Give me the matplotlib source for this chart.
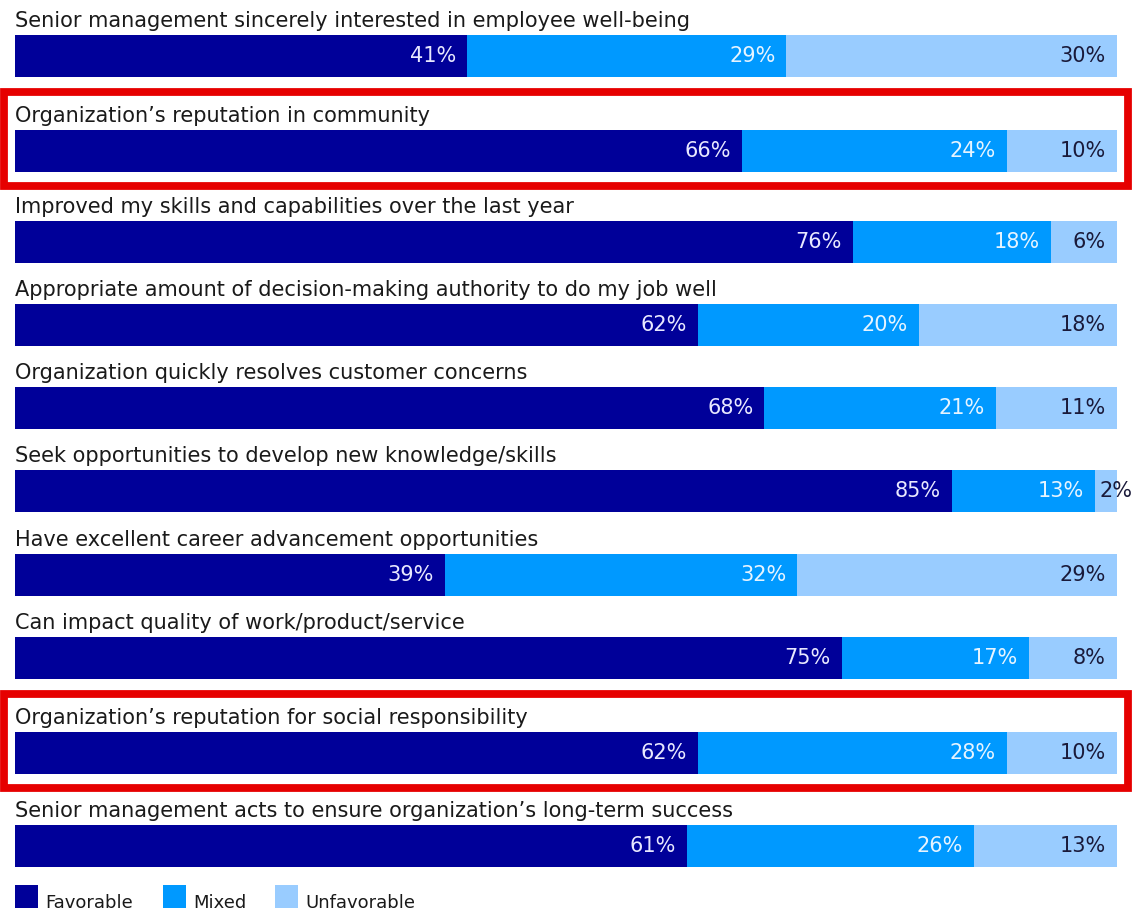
import matplotlib
matplotlib.use("Agg")
import matplotlib.pyplot as plt
from matplotlib.patches import Rectangle
import numpy as np

categories = [
    "Senior management sincerely interested in employee well-being",
    "Organization\u2019s reputation in community",
    "Improved my skills and capabilities over the last year",
    "Appropriate amount of decision-making authority to do my job well",
    "Organization quickly resolves customer concerns",
    "Seek opportunities to develop new knowledge/skills",
    "Have excellent career advancement opportunities",
    "Can impact quality of work/product/service",
    "Organization\u2019s reputation for social responsibility",
    "Senior management acts to ensure organization\u2019s long-term success",
]
favorable = [41, 66, 76, 62, 68, 85, 39, 75, 62, 61]
mixed = [29, 24, 18, 20, 21, 13, 32, 17, 28, 26]
unfavorable = [30, 10, 6, 18, 11, 2, 29, 8, 10, 13]
series_names = ["Favorable", "Mixed", "Unfavorable"]
highlighted = [1, 8]

colors = ["#000099", "#0099ff", "#99ccff"]
text_colors = ["#e8e8ff", "#e6f4ff", "#1a1a3a"]

W, H = 1135, 911
fig = plt.figure(figsize=(W / 100, H / 100), dpi=100)
x0, x1 = 15, 1117
ax = fig.add_axes([x0 / W, 0, (x1 - x0) / W, 1])
ax.set_xlim(0, 100)
ax.set_ylim(H, 0)
ax.axis("off")

# layout: bar centres in pixel rows
centers = [56, 151, 242, 325, 408, 491, 575, 658, 753, 846]
bar_h = 42
px_per_pct = (x1 - x0) / 100.0
fs_title = 15
fs_val = 15

data = [favorable, mixed, unfavorable]
for i, cat in enumerate(categories):
    left = 0
    for s in range(3):
        v = data[s][i]
        ax.barh(centers[i], v, left=left, height=bar_h, color=colors[s],
                edgecolor="none")
        if v >= 4:
            ax.text(left + v - 11 / px_per_pct, centers[i], f"{v}%",
                    ha="right", va="center", fontsize=fs_val,
                    color=text_colors[s], family="DejaVu Sans")
        else:
            ax.text(left + v / 2 - 0.6, centers[i], f"{v}%",
                    ha="left", va="center", fontsize=fs_val,
                    color=text_colors[s], family="DejaVu Sans")
        left += v
    ax.text(0, centers[i] - bar_h / 2 - 8, cat, ha="left", va="baseline",
            fontsize=fs_title, color="#1a1a1a", family="DejaVu Sans")

# highlight boxes (figure pixel coordinates)
for i in highlighted:
    top = centers[i] - 59
    bot = centers[i] + 35
    rect = Rectangle((4 / W, 1 - bot / H), (1128 - 4) / W, (bot - top) / H,
                     transform=fig.transFigure, fill=False,
                     edgecolor="#e60000", linewidth=5.6)
    fig.patches.append(rect)

# legend
leg_x = [15, 163, 275]
for s, name in enumerate(series_names):
    rect = Rectangle((leg_x[s] / W, 1 - 908 / H), 23 / W, 23 / H,
                     transform=fig.transFigure, facecolor=colors[s],
                     edgecolor="none")
    fig.patches.append(rect)
    fig.text((leg_x[s] + 30) / W, 1 - 908 / H, name, ha="left",
             va="baseline", fontsize=13, color="#1a1a1a",
             family="DejaVu Sans")

fig.savefig("out.png", dpi=100, facecolor="white")
